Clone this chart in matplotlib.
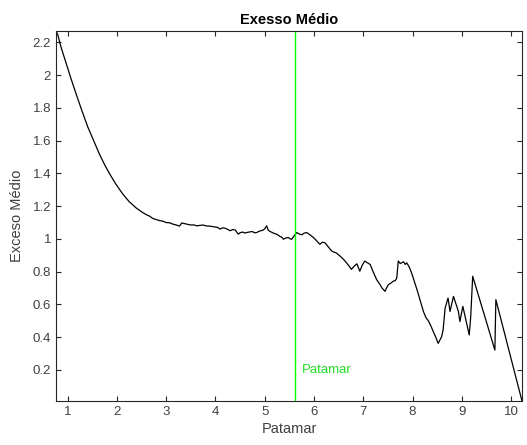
import matplotlib
matplotlib.use("Agg")
import matplotlib.pyplot as plt
from matplotlib.ticker import FuncFormatter

plt.rcParams['font.family'] = ['Liberation Sans', 'DejaVu Sans']

# traced curve (Patamar, Exceso Médio)
patamar = [0.767, 0.80, 0.87, 0.97, 1.07, 1.17, 1.29, 1.41, 1.53, 1.645, 1.75, 1.85,
           1.98, 2.12, 2.25, 2.39, 2.52, 2.60, 2.66, 2.73, 2.80, 2.87, 2.94,
           3.00, 3.08, 3.14, 3.21, 3.27, 3.32, 3.36, 3.40, 3.45, 3.50, 3.56, 3.62,
           3.68, 3.75, 3.82, 3.89, 3.95, 4.00, 4.05, 4.09, 4.15, 4.20,
           4.25, 4.30, 4.35, 4.40, 4.465, 4.50, 4.55, 4.60, 4.635, 4.70, 4.75, 4.80,
           4.84, 4.88, 4.92, 4.97, 5.00, 5.04, 5.07, 5.11, 5.15, 5.18,
           5.24, 5.28, 5.31, 5.35, 5.38, 5.43, 5.48, 5.52, 5.55, 5.60, 5.65, 5.70,
           5.75, 5.80, 5.85, 5.92, 5.99, 6.05,
           6.12, 6.17, 6.22, 6.28, 6.32, 6.36, 6.40, 6.45, 6.49, 6.53, 6.60, 6.66,
           6.71, 6.76, 6.82, 6.87, 6.93, 6.98, 7.03,
           7.08, 7.14, 7.20, 7.27, 7.34, 7.38, 7.44, 7.48, 7.51, 7.56, 7.61, 7.65,
           7.68, 7.71, 7.75, 7.78, 7.82, 7.85, 7.88, 7.93, 7.98,
           8.10, 8.22, 8.27, 8.32, 8.37, 8.42, 8.47, 8.52, 8.55, 8.59, 8.62, 8.66,
           8.72, 8.76, 8.83, 8.93, 8.96, 9.02, 9.08, 9.15, 9.18, 9.22, 9.67, 9.69,
           10.22]
excesso = [2.27, 2.25, 2.17, 2.075, 1.98, 1.89, 1.785, 1.685, 1.60, 1.52, 1.455, 1.40,
           1.335, 1.275, 1.228, 1.19, 1.162, 1.148, 1.14, 1.125, 1.118, 1.112, 1.108,
           1.10, 1.098, 1.09, 1.085, 1.078, 1.098, 1.094, 1.092, 1.088, 1.085, 1.086, 1.08,
           1.082, 1.085, 1.079, 1.078, 1.075, 1.072, 1.07, 1.06, 1.068, 1.065,
           1.058, 1.05, 1.057, 1.055, 1.029, 1.038, 1.042, 1.036, 1.039, 1.043, 1.045, 1.037,
           1.039, 1.046, 1.05, 1.054, 1.062, 1.08, 1.055, 1.045, 1.04, 1.035,
           1.029, 1.022, 1.015, 1.01, 0.998, 1.006, 1.008, 1.0, 0.998, 1.02, 1.039, 1.03,
           1.025, 1.035, 1.039, 1.025, 1.008, 0.99,
           0.967, 0.98, 0.977, 0.955, 0.94, 0.926, 0.92, 0.915, 0.905, 0.895, 0.875, 0.854,
           0.835, 0.814, 0.835, 0.848, 0.803, 0.84, 0.865,
           0.855, 0.844, 0.80, 0.752, 0.721, 0.70, 0.68, 0.705, 0.721, 0.73, 0.742, 0.745,
           0.762, 0.865, 0.85, 0.854, 0.86, 0.844, 0.854, 0.83, 0.793,
           0.68, 0.557, 0.52, 0.50, 0.47, 0.434, 0.40, 0.362, 0.38, 0.403, 0.444, 0.577,
           0.639, 0.557, 0.649, 0.557, 0.495, 0.588, 0.506, 0.413, 0.526, 0.772, 0.321, 0.629,
           0.01]

limiar = 5.61
xticks = [1, 2, 3, 4, 5, 6, 7, 8, 9, 10]
yticks = [0.2, 0.4, 0.6, 0.8, 1.0, 1.2, 1.4, 1.6, 1.8, 2.0, 2.2]

fig = plt.figure(figsize=(5.27, 4.45), dpi=100)
ax = fig.add_axes([0.1063, 0.0989, 0.8842, 0.8314])

ax.plot(patamar, excesso, color='black', linewidth=0.9)
ax.axvline(limiar, color='#00ff00', linewidth=1.0)
ax.text(limiar + 0.15, 0.2, 'Patamar', color='#22dd22', fontsize=9.5, va='center')

ax.set_xlim(min(patamar), max(patamar))
ax.set_ylim(min(excesso), max(excesso))
ax.set_xticks(xticks)
ax.set_yticks(yticks)
fmt = FuncFormatter(lambda v, p: '{:g}'.format(round(v, 2)))
ax.xaxis.set_major_formatter(fmt)
ax.yaxis.set_major_formatter(fmt)

gray = '#262626'
for s in ax.spines.values():
    s.set_color(gray)
    s.set_linewidth(0.8)
ax.tick_params(direction='in', length=3.5, width=0.8, top=True, right=True,
               colors=gray, labelsize=9.5, labelcolor='#404040')

ax.set_title('Exesso Médio', fontsize=10.5, fontweight='bold', color='black', pad=5)
ax.set_xlabel('Patamar', fontsize=10.5, color='#404040', labelpad=3)
ax.set_ylabel('Exceso Médio', fontsize=10.5, color='#404040', labelpad=6)

fig.savefig('out.png', dpi=100)
